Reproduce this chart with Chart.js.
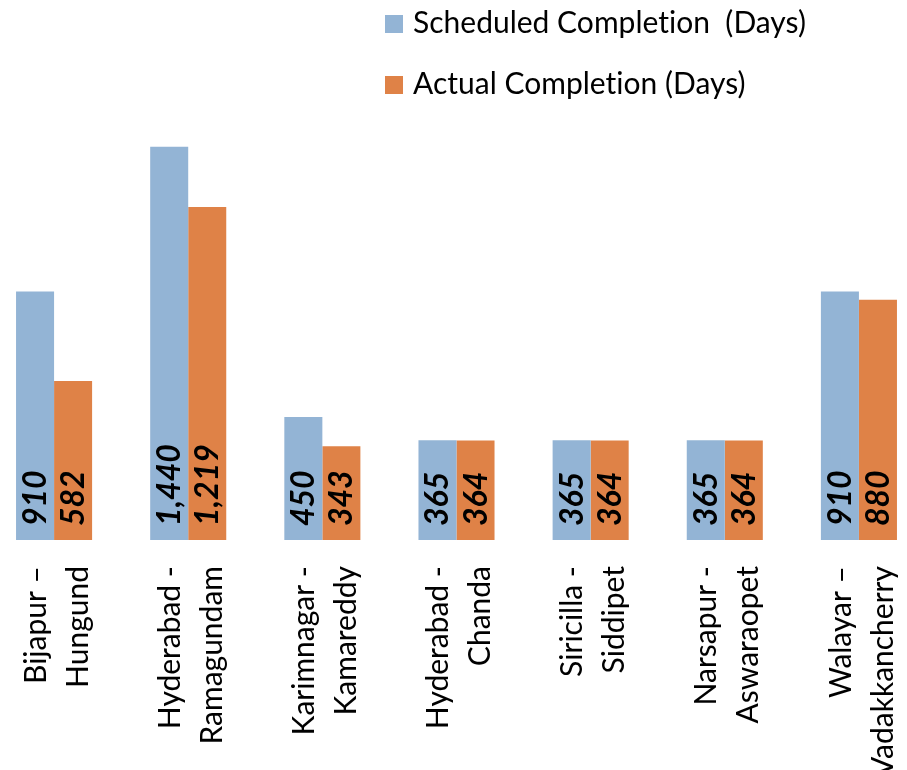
<!DOCTYPE html>
<html>
<head>
<meta charset="utf-8">
<script src="https://cdn.jsdelivr.net/npm/chart.js@4.4.0/dist/chart.umd.min.js"></script>
<style>
  html, body { margin: 0; padding: 0; background: #fff; }
  #wrap { width: 907px; height: 770px; }
</style>
</head>
<body>
<div id="wrap"><canvas id="myChart"></canvas></div>
<script>
const categories = [
  ["Bijapur –", "Hungund"],
  ["Hyderabad -", "Ramagundam"],
  ["Karimnagar -", "Kamareddy"],
  ["Hyderabad -", "Chanda"],
  ["Siricilla -", "Siddipet"],
  ["Narsapur -", "Aswaraopet"],
  ["Walayar –", "Vadakkancherry"]
];
const scheduledDays = [910, 1440, 450, 365, 365, 365, 910];
const actualDays = [582, 1219, 343, 364, 364, 364, 880];
const seriesNames = ["Scheduled Completion  (Days)", "Actual Completion (Days)"];
const seriesColors = ["#93B4D5", "#DF8247"];

const fontFamily = "Lato";

// the plot in the picture runs a little past both canvas edges
const widenPlot = {
  id: "widenPlot",
  afterLayout(chart) {
    const x = chart.scales.x;
    x.left = -13;
    x.right = 926;
    x.width = x.right - x.left;
    x.configure();
    chart.chartArea.left = x.left;
    chart.chartArea.right = x.right;
    chart.chartArea.width = x.width;
  }
};

// legend drawn by hand: two rows stacked at the top right
const legendBoxes = {
  id: "legendBoxes",
  afterDraw(chart) {
    const ctx = chart.ctx;
    ctx.save();
    ctx.font = "30px " + fontFamily;
    ctx.letterSpacing = "0.01px";
    ctx.textBaseline = "alphabetic";
    chart.data.datasets.forEach((ds, i) => {
      const y = 24 + i * 61;
      ctx.fillStyle = ds.backgroundColor;
      ctx.fillRect(385, y - 9, 18, 18);
      ctx.fillStyle = "#000";
      ctx.fillText(ds.label, 413, y + 9);
    });
    ctx.restore();
  }
};

// values written upwards at the foot of each bar
const barValues = {
  id: "barValues",
  afterDatasetsDraw(chart) {
    const ctx = chart.ctx;
    chart.data.datasets.forEach((ds, i) => {
      chart.getDatasetMeta(i).data.forEach((bar, j) => {
        ctx.save();
        ctx.translate(bar.x + 11, bar.base - 14);
        ctx.rotate(-Math.PI / 2);
        ctx.font = "italic bold 32px " + fontFamily;
        ctx.fillStyle = "#000";
        ctx.textAlign = "left";
        ctx.textBaseline = "alphabetic";
        ctx.fillText(ds.data[j].toLocaleString("en-US"), 0, 0);
        ctx.restore();
      });
    });
  }
};

let ctx = document.getElementById("myChart").getContext("2d");
let myChart = new Chart(ctx, {
  type: "bar",
  data: {
    labels: categories,
    datasets: [
      {
        label: seriesNames[0],
        data: scheduledDays,
        backgroundColor: seriesColors[0],
        barPercentage: 1,
        categoryPercentage: 0.567,
      },
      {
        label: seriesNames[1],
        data: actualDays,
        backgroundColor: seriesColors[1],
        barPercentage: 1,
        categoryPercentage: 0.567,
      },
    ],
  },
  options: {
    responsive: true,
    maintainAspectRatio: false,
    animation: false,
    layout: { padding: { top: 103, left: 0, right: 0, bottom: 0 } },
    plugins: {
      legend: { display: false },
      tooltip: { enabled: false },
    },
    scales: {
      x: {
        grid: { display: false, drawTicks: false },
        border: { display: false },
        ticks: {
          autoSkip: false,
          minRotation: 90,
          maxRotation: 90,
          padding: 26,
          labelOffset: -18,
          color: "#000",
          font: { family: fontFamily, size: 30, lineHeight: "42px" },
        },
        afterFit(scale) {
          scale.height = 230;
          scale.paddingLeft = 0;
          scale.paddingRight = 0;
        },
      },
      y: { display: false, min: 0, max: 1600 },
    },
  },
  plugins: [widenPlot, legendBoxes, barValues],
});
</script>
</body>
</html>
